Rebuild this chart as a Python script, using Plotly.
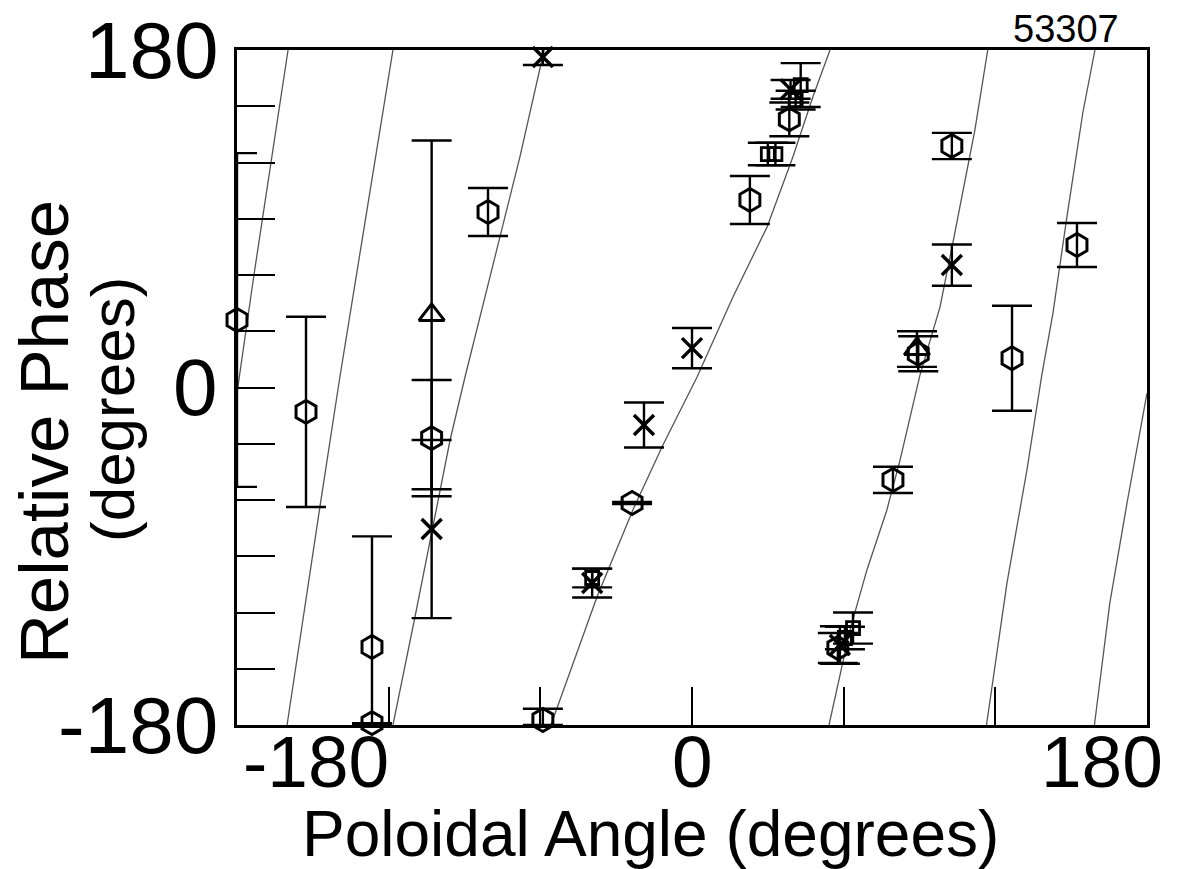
import plotly.graph_objects as go

# Measured relative phase vs. poloidal angle, grouped by probe symbol
hex_x = [-180, -152.7, -126.6, -126.6, -103, -80.7, -59, -23.7, 22.9, 38.5, 57.7, 79.5, 89.5, 102.8, 126.6, 152.3]
hex_y = [36, -13, -138.4, -179, -27, 93.6, -177.3, -61.6, 100, 143, -138.9, -49.3, 18, 128.8, 15.6, 76]
hex_err_up = [89, 50.7, 59, 0, 31, 12.8, 6, 0.5, 12.8, 9, 8, 7, 9.3, 7, 28, 11.7]
hex_err_dn = [89, 50.7, 41.6, 0, 31, 12.8, 2.7, 0.5, 12.8, 9, 8, 7, 9.3, 7, 28, 11.7]

x_x = [-103, -59, -39.5, -19, 0, 39, 58.5, 102.8]
x_y = [-75.5, 176.3, -104.3, -20, 21, 159, -137.3, 65.3]
x_err = [47.5, 4.3, 7.7, 12, 10.7, 5, 10, 11]

tri_x = [-103, 89]
tri_y = [38.7, 20.5]
tri_err = [93, 9.5]

sq_x = [-39.5, 30, 33, 43, 41, 63.7, 60.5]
sq_y = [-101.6, 124.5, 124.5, 161.3, 153.3, -128.3, -133.6]
sq_err = [5, 6, 6, 11.7, 5, 8.3, 6]

# Model phase curve (wrapped into -180..180), one branch per wrap
branch_a_x = [-159.8, -166.5, -173.3, -180]
branch_a_y = [180, 120, 60, -3]
branch_b_x = [-118.3, -139.3, -147.2, -160.2]
branch_b_y = [180, 5.6, -63.7, -180]
branch_c_x = [-58.5, -68.1, -89.8, -95.7, -109.6, -118.3]
branch_c_y = [180, 122.9, 5.6, -28, -122.4, -180]
branch_d_x = [54.6, 47.8, 39.9, 29.7, 16.2, 2.0, -11.5, -23.4, -37.6, -53.4, -55.8]
branch_d_y = [180, 154.9, 122.9, 85.6, 48.3, 5.6, -30.7, -65.3, -111.7, -170.4, -180]
branch_e_x = [117, 111.9, 103.2, 98.1, 90.2, 82.3, 77.1, 69.2, 62.5, 54.2]
branch_e_y = [180, 137.3, 77.1, 42.9, 6.7, -38.7, -65.3, -97.3, -129.3, -180]
branch_f_x = [159.4, 154.6, 148.3, 142.8, 138.4, 132.5, 124.6, 116.5]
branch_f_y = [180, 146.4, 90.9, 39.7, 6.7, -44, -104.3, -180]
branch_g_x = [180, 172.1, 165.3, 159.2]
branch_g_y = [-3, -61.6, -114.9, -180]

x_tick_labels = ["-180", "0", "180"]
y_tick_labels = ["-180", "0", "180"]

branches = [
    (branch_a_x, branch_a_y), (branch_b_x, branch_b_y), (branch_c_x, branch_c_y),
    (branch_d_x, branch_d_y), (branch_e_x, branch_e_y), (branch_f_x, branch_f_y),
    (branch_g_x, branch_g_y),
]

fig = go.Figure()

curve_x, curve_y = [], []
for bx, by in branches:
    curve_x += bx + [None]
    curve_y += by + [None]
fig.add_trace(go.Scatter(
    x=curve_x, y=curve_y, mode="lines",
    line=dict(color="#555555", width=1.3),
    hoverinfo="skip", showlegend=False,
))

def err(arr, arr_minus=None):
    d = dict(type="data", array=arr, visible=True, color="black", thickness=2.4, width=20)
    if arr_minus is not None:
        d["symmetric"] = False
        d["arrayminus"] = arr_minus
    return d

fig.add_trace(go.Scatter(
    x=hex_x, y=hex_y, mode="markers", cliponaxis=False,
    marker=dict(symbol="hexagon-open", size=23, color="black", line=dict(width=3, color="black")),
    error_y=err(hex_err_up, hex_err_dn), showlegend=False,
))
fig.add_trace(go.Scatter(
    x=x_x, y=x_y, mode="markers", cliponaxis=False,
    marker=dict(symbol="x-thin-open", size=20, color="black", line=dict(width=3.5, color="black")),
    error_y=err(x_err), showlegend=False,
))
fig.add_trace(go.Scatter(
    x=tri_x, y=tri_y, mode="markers", cliponaxis=False,
    marker=dict(symbol="triangle-up-open", size=22, color="black", line=dict(width=3, color="black")),
    error_y=err(tri_err), showlegend=False,
))
fig.add_trace(go.Scatter(
    x=sq_x, y=sq_y, mode="markers", cliponaxis=False,
    marker=dict(symbol="square-open", size=13, color="black", line=dict(width=2.8, color="black")),
    error_y=err(sq_err), showlegend=False,
))

FONT = "Liberation Sans, Arial, Helvetica, sans-serif"

fig.update_layout(
    width=1189, height=869,
    margin=dict(l=237, r=42, t=50, b=144),
    paper_bgcolor="white", plot_bgcolor="white",
    font=dict(family=FONT, color="black"),
    xaxis=dict(
        range=[-180, 180], showgrid=False, zeroline=False,
        showline=True, mirror=True, linecolor="black", linewidth=3,
        ticks="inside", tickvals=[-120, -60, 0, 60, 120], ticklen=38, tickwidth=2,
        tickcolor="black", showticklabels=False,
    ),
    yaxis=dict(
        range=[-180, 180], showgrid=False, zeroline=False,
        showline=True, mirror=True, linecolor="black", linewidth=3,
        ticks="inside", tickvals=[-150, -120, -90, -60, -30, 0, 30, 60, 90, 120, 150],
        ticklen=38, tickwidth=2, tickcolor="black", showticklabels=False,
    ),
)

ann = []
# x tick labels
for lab, xa, anchor, shift in zip(x_tick_labels, [-180, 0, 180], ["left", "center", "right"], [4, 0, 18]):
    ann.append(dict(text=lab, x=xa, xref="x", y=0, yref="paper", xanchor=anchor, yanchor="top",
                    xshift=shift, yshift=6, showarrow=False, font=dict(size=73, family=FONT)))
# y tick labels
for lab, ya in zip(y_tick_labels, [-180, 0, 180]):
    ann.append(dict(text=lab, x=0, xref="paper", y=ya, yref="y", xanchor="right",
                    yanchor="middle", xshift=-17, showarrow=False, font=dict(size=80, family=FONT)))
# axis titles
ann.append(dict(text="Poloidal Angle (degrees)", x=(650 - 237) / 910, xref="paper", y=0, yref="paper",
                xanchor="center", yanchor="middle", yshift=-109, showarrow=False,
                font=dict(size=64, family=FONT)))
ann.append(dict(text="Relative Phase", x=0, xref="paper", y=(725 - 432) / 675, yref="paper", textangle=-90,
                xanchor="center", yanchor="middle", xshift=-193, showarrow=False,
                font=dict(size=69, family=FONT)))
ann.append(dict(text="(degrees)", x=0, xref="paper", y=(725 - 410) / 675, yref="paper", textangle=-90,
                xanchor="center", yanchor="middle", xshift=-125, showarrow=False,
                font=dict(size=62, family=FONT)))
# shot number
ann.append(dict(text="53307", x=(1066 - 237) / 910, xref="paper", y=1, yref="paper", xanchor="center",
                yanchor="middle", yshift=21, showarrow=False, font=dict(size=38, family=FONT)))
fig.update_layout(annotations=ann)

fig.write_html("out.html")
